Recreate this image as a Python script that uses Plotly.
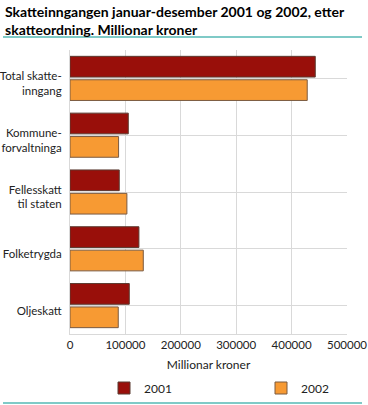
import plotly.graph_objects as go

categories = ["Total skatte-<br>inngang", "Kommune-<br>forvaltninga", "Fellesskatt<br>til staten", "Folketrygda", "Oljeskatt"]
values_2001 = [442700, 105200, 88900, 124400, 107000]
values_2002 = [428200, 87700, 102700, 132300, 87100]
tick_vals = [0, 100000, 200000, 300000, 400000, 500000]
tick_text = ["0", "100000", "200000", "300000", "400000", "500000"]

FONT = "Lato"
PW, PH = 277, 284

fig = go.Figure()
fig.add_trace(go.Bar(y=categories, x=values_2001, orientation="h", name="2001", legend="legend",
                     marker=dict(color="#990f0a", line=dict(color="#5a3a30", width=1))))
fig.add_trace(go.Bar(y=categories, x=values_2002, orientation="h", name="2002", legend="legend2",
                     marker=dict(color="#f79a33", line=dict(color="#7a5a40", width=1))))

leg_common = dict(orientation="h", y=-(388-334)/PH, xanchor="left", yanchor="middle",
                  font=dict(size=12), bgcolor="rgba(0,0,0,0)")

fig.update_layout(
    width=368, height=405,
    margin=dict(l=70, r=21, t=50, b=71, autoexpand=False),
    paper_bgcolor="white", plot_bgcolor="white",
    font=dict(family=FONT, size=12, color="#222"),
    barmode="group", bargap=0.176, bargroupgap=0.115,
    showlegend=True,
    legend=dict(x=(104-70)/PW, **leg_common),
    legend2=dict(x=(261-70)/PW, **leg_common),
    xaxis=dict(range=[0, 500000], tickvals=tick_vals, ticktext=tick_text,
               showgrid=True, gridcolor="#d9d9d9", gridwidth=1, automargin=False,
               showline=True, linecolor="#d9d9d9", zeroline=False,
               ticks="", tickfont=dict(size=11.5),
               title=dict(text="Millionar kroner", font=dict(size=12), standoff=10)),
    yaxis=dict(autorange="reversed", showgrid=True, gridcolor="#d9d9d9", gridwidth=1,
               automargin=False,
               showline=True, linecolor="#d9d9d9", ticks="", tickfont=dict(size=11.5),
               ticklabelstandoff=5, ticklabelshift=-5),
    shapes=[
        dict(type="line", xref="paper", yref="paper", x0=-67/PW, x1=(362-70)/PW,
             y0=1+13/PH, y1=1+13/PH, line=dict(color="#7fcac7", width=2)),
        dict(type="line", xref="paper", yref="paper", x0=-67/PW, x1=(362-70)/PW,
             y0=-(403-334)/PH, y1=-(403-334)/PH, line=dict(color="#7fcac7", width=2)),
    ],
    annotations=[
        dict(text="<b>Skatteinngangen januar-desember 2001 og 2002, etter<br>skatteordning. Millionar kroner</b>",
             xref="paper", yref="paper", x=-67/PW, y=1+49/PH, xanchor="left", yanchor="top",
             align="left", showarrow=False, font=dict(size=14, color="#000")),
    ],
)

fig.write_html("out.html")
